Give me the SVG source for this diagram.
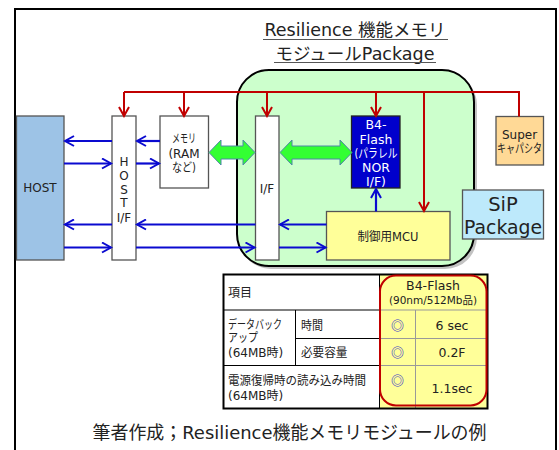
<svg xmlns="http://www.w3.org/2000/svg" width="559" height="450" viewBox="0 0 559 450">
<style>
text{font-family:"DejaVu Sans","Noto Sans CJK JP",sans-serif;fill:#222}
.box{stroke:#555;stroke-width:1.3}
.lbl{font-size:12px;text-anchor:middle}
.wl{font-size:12.5px;text-anchor:middle;fill:#fff}
.blue{stroke:#0a0ad0;stroke-width:2.2;fill:none}
.red{stroke:#c00000;stroke-width:2;fill:none}
.garr{fill:#33ff33;stroke:#4f86a8;stroke-width:1}
.tl{font-size:12px}
.tv{font-size:12.5px;text-anchor:middle}
.tline{stroke:#000;stroke-width:1}
.yline{stroke:#999;stroke-width:1}
.dc{font-family:"Noto Sans CJK JP",sans-serif;font-size:13px;font-weight:bold;text-anchor:middle;fill:#3c3cc8}
</style>
<defs>
<marker id="ab" markerWidth="12" markerHeight="12" refX="10" refY="6" orient="auto" markerUnits="userSpaceOnUse"><path d="M1,1 L10,6 L1,11" fill="none" stroke="#0a0ad0" stroke-width="2"/></marker>
<marker id="ar" markerWidth="12" markerHeight="12" refX="10" refY="6" orient="auto" markerUnits="userSpaceOnUse"><path d="M1,1 L10,6 L1,11" fill="none" stroke="#c00000" stroke-width="2"/></marker>
</defs>
<rect x="0" y="0" width="559" height="450" fill="#fff"/>
<rect x="15" y="9" width="541" height="470" fill="#fff" stroke="#000" stroke-width="2"/>

<g id="title">
<text x="355" y="36" font-size="17.5" text-anchor="middle">Resilience 機能メモリ</text>
<line x1="263" y1="39.5" x2="448" y2="39.5" stroke="#555" stroke-width="1.2"/>
<text x="355" y="60" font-size="17.5" text-anchor="middle">モジュールPackage</text>
<line x1="274" y1="62.5" x2="436" y2="62.5" stroke="#555" stroke-width="1.2"/>
</g>

<g id="sip-module">
<rect x="239" y="73" width="238" height="196" rx="32" fill="#999" opacity="0.6"/>
<rect x="237" y="70" width="237" height="196" rx="32" fill="#ccffcc" stroke="#000" stroke-width="2"/>
</g>

<g id="host">
<rect class="box" x="16.5" y="116" width="47.5" height="144" fill="#9dc3e6"/>
<text class="lbl" x="40" y="192">HOST</text>
</g>
<g id="host-if">
<rect class="box" x="112" y="116" width="24" height="144" fill="#fff"/>
<text class="lbl" x="124" y="166">H</text>
<text class="lbl" x="124" y="180">O</text>
<text class="lbl" x="124" y="194">S</text>
<text class="lbl" x="124" y="207">T</text>
<text class="lbl" x="124" y="222">I/F</text>
</g>
<g id="memory">
<rect class="box" x="160" y="116" width="48.5" height="72" fill="#fff"/>
<text class="lbl" x="184" y="143" textLength="24" lengthAdjust="spacingAndGlyphs">メモリ</text>
<text class="lbl" x="184" y="158">(RAM</text>
<text class="lbl" x="184" y="172" textLength="24" lengthAdjust="spacingAndGlyphs">など)</text>
</g>
<g id="if">
<rect class="box" x="255.5" y="116" width="23.5" height="144" fill="#fff"/>
<text class="lbl" x="267" y="193">I/F</text>
</g>
<g id="b4-flash">
<rect x="351.5" y="116" width="48.5" height="72" fill="#0000cc" stroke="#222" stroke-width="1.3"/>
<text class="wl" x="376" y="129">B4-</text>
<text class="wl" x="376" y="144">Flash</text>
<text class="wl" x="376" y="158" textLength="43" lengthAdjust="spacingAndGlyphs">(パラレル</text>
<text class="wl" x="376" y="172">NOR</text>
<text class="wl" x="376" y="186">I/F)</text>
</g>
<g id="mcu">
<rect class="box" x="326.5" y="211.5" width="123.5" height="48.5" fill="#ffff99"/>
<text class="lbl" x="388" y="241" textLength="61" lengthAdjust="spacingAndGlyphs">制御用MCU</text>
</g>
<g id="supercap">
<rect class="box" x="496" y="116.5" width="47.5" height="48.5" fill="#ffd996"/>
<text class="lbl" x="519.5" y="139">Super</text>
<text class="lbl" x="519.5" y="153" textLength="45" lengthAdjust="spacingAndGlyphs">キャパシタ</text>
</g>
<g id="sip-label">
<rect class="box" x="462.5" y="190" width="81" height="49" fill="#bde9fb"/>
<text x="503" y="211" font-size="19.5" text-anchor="middle">SiP</text>
<text x="503" y="234" font-size="19.5" text-anchor="middle" textLength="78" lengthAdjust="spacingAndGlyphs">Package</text>
</g>

<g id="connectors">
<polyline class="red" points="124,92 519,92 519,116.5"/>
<line class="red" x1="124" y1="92" x2="124" y2="116" marker-end="url(#ar)"/>
<line class="red" x1="184" y1="92" x2="184" y2="116" marker-end="url(#ar)"/>
<line class="red" x1="267" y1="92" x2="267" y2="116" marker-end="url(#ar)"/>
<line class="red" x1="376" y1="92" x2="376" y2="116" marker-end="url(#ar)"/>
<line class="red" x1="424" y1="92" x2="424" y2="211" marker-end="url(#ar)"/>

<line class="blue" x1="112" y1="141" x2="65" y2="141" marker-end="url(#ab)"/>
<line class="blue" x1="64" y1="163.5" x2="111" y2="163.5" marker-end="url(#ab)"/>
<line class="blue" x1="112" y1="224.5" x2="65" y2="224.5" marker-end="url(#ab)"/>
<line class="blue" x1="64" y1="247.5" x2="111" y2="247.5" marker-end="url(#ab)"/>
<line class="blue" x1="160" y1="141" x2="137" y2="141" marker-end="url(#ab)"/>
<line class="blue" x1="136" y1="163.5" x2="159" y2="163.5" marker-end="url(#ab)"/>
<line class="blue" x1="255.5" y1="224.5" x2="137" y2="224.5" marker-end="url(#ab)"/>
<line class="blue" x1="136" y1="247.5" x2="254.5" y2="247.5" marker-end="url(#ab)"/>
<line class="blue" x1="326.5" y1="224.5" x2="280" y2="224.5" marker-end="url(#ab)"/>
<line class="blue" x1="279" y1="247.5" x2="325.5" y2="247.5" marker-end="url(#ab)"/>
<line class="blue" x1="376" y1="211.5" x2="376" y2="189" marker-end="url(#ab)"/>

<polygon class="garr" points="209,152.5 221,140 221,146 243,146 243,140 255,152.5 243,165 243,159 221,159 221,165"/>
<polygon class="garr" points="280,152.5 292,140 292,146 340,146 340,140 352,152.5 340,165 340,159 292,159 292,165"/>
</g>

<g id="table">
<rect x="379.5" y="274.5" width="108" height="134" fill="#ffff99"/>
<line class="yline" x1="415.5" y1="310" x2="415.5" y2="408"/>
<line class="yline" x1="379.5" y1="338.5" x2="487.5" y2="338.5"/>
<line class="yline" x1="379.5" y1="365.5" x2="487.5" y2="365.5"/>
<line class="yline" x1="379.5" y1="310" x2="487.5" y2="310"/>
<line class="tline" x1="223.5" y1="310" x2="379.5" y2="310"/>
<line class="tline" x1="295.5" y1="338.5" x2="379.5" y2="338.5"/>
<line class="tline" x1="223.5" y1="365.5" x2="379.5" y2="365.5"/>
<line class="tline" x1="295.5" y1="310" x2="295.5" y2="365.5"/>
<line class="tline" x1="379.5" y1="274.5" x2="379.5" y2="408.5"/>
<rect x="223.5" y="274.5" width="264" height="134" fill="none" stroke="#000" stroke-width="2"/>
<rect x="380" y="275.5" width="106.5" height="130" rx="16" fill="none" stroke="#c00000" stroke-width="2"/>
<text class="tl" x="228" y="297">項目</text>
<text class="tv" x="433" y="290">B4-Flash</text>
<text x="433" y="304" font-size="10.5" text-anchor="middle">(90nm/512Mb品)</text>
<text class="tl" x="228" y="329" textLength="54" lengthAdjust="spacingAndGlyphs">データバック</text>
<text class="tl" x="228" y="342" textLength="30" lengthAdjust="spacingAndGlyphs">アップ</text>
<text class="tl" x="228" y="357">(64MB時)</text>
<text class="tl" x="301" y="330" textLength="22" lengthAdjust="spacingAndGlyphs">時間</text>
<text class="tl" x="301" y="357" textLength="46.5" lengthAdjust="spacingAndGlyphs">必要容量</text>
<text class="tl" x="228" y="385" textLength="138" lengthAdjust="spacingAndGlyphs">電源復帰時の読み込み時間</text>
<text class="tl" x="228" y="400">(64MB時)</text>
<text class="dc" x="397.5" y="330">◎</text>
<text class="dc" x="397.5" y="357">◎</text>
<text class="dc" x="397.5" y="385">◎</text>
<text class="tv" x="452" y="330">6 sec</text>
<text class="tv" x="452" y="357">0.2F</text>
<text class="tv" x="452" y="393">1.1sec</text>
</g>

<g id="caption">
<text x="289.5" y="439" font-size="18.5" text-anchor="middle" textLength="394" lengthAdjust="spacingAndGlyphs">筆者作成；Resilience機能メモリモジュールの例</text>
</g>
</svg>
